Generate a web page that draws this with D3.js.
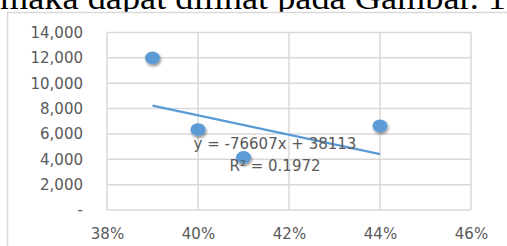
<!DOCTYPE html>
<html>
<head>
<meta charset="utf-8">
<script src="https://cdn.jsdelivr.net/npm/d3@7"></script>
<style>
  html, body { margin: 0; padding: 0; background: #fff; overflow: hidden; }
  svg { display: block; }
</style>
</head>
<body>
<div id="chart"></div>
<script>
// data
var pctValues = [0.39, 0.40, 0.41, 0.44];
var amountValues = [12000, 6350, 4150, 6650];
var xTicks = [0.38, 0.40, 0.42, 0.44, 0.46];
var yTicks = [0, 2000, 4000, 6000, 8000, 10000, 12000, 14000];
var trendSlope = [-76607];
var trendIntercept = [38113];
var trendLabels = ["y = -76607x + 38113", "R\u00B2 = 0.1972"];
var captionText = ["maka dapat dilihat pada Gambar. 1"];

var W = 507, H = 246;
var blue = "#5B9BD5";
var grid = "#d9d9d9";
var labelColor = "#595959";

var svg = d3.select("#chart").append("svg")
    .attr("width", W)
    .attr("height", H);

var defs = svg.append("defs");
var shadow = defs.append("filter").attr("id", "shadow")
    .attr("x", "-50%").attr("y", "-50%").attr("width", "200%").attr("height", "200%");
shadow.append("feGaussianBlur").attr("in", "SourceAlpha").attr("stdDeviation", 1.5).attr("result", "b");
shadow.append("feOffset").attr("in", "b").attr("dx", 1).attr("dy", 2).attr("result", "o");
shadow.append("feComponentTransfer").attr("in", "o").attr("result", "s")
  .append("feFuncA").attr("type", "linear").attr("slope", 0.45);
var merge = shadow.append("feMerge");
merge.append("feMergeNode").attr("in", "s");
merge.append("feMergeNode").attr("in", "SourceGraphic");

// caption text of the page, cut at the top
svg.append("text")
    .attr("x", 0)
    .attr("y", 9)
    .attr("textLength", 506)
    .attr("lengthAdjust", "spacingAndGlyphs")
    .style("font-family", "'Liberation Serif', 'Times New Roman', serif")
    .style("font-size", "34px")
    .style("fill", "#000")
    .text(captionText[0]);

// chart frame
svg.append("rect")
    .attr("x", 7.5).attr("y", 12.5)
    .attr("width", 540).attr("height", 260)
    .attr("fill", "#fff")
    .attr("stroke", grid)
    .attr("stroke-width", 1.5);

var x = d3.scaleLinear().domain([0.38, 0.46]).range([107, 471]);
var y = d3.scaleLinear().domain([0, 14000]).range([210, 32.5]);

var plot = svg.append("g");

// gridlines
plot.append("g").selectAll("line.h")
    .data(yTicks).enter().append("line")
    .attr("x1", x.range()[0]).attr("x2", x.range()[1])
    .attr("y1", function(d) { return y(d); })
    .attr("y2", function(d) { return y(d); })
    .attr("stroke", grid).attr("stroke-width", 1.5);

plot.append("g").selectAll("line.v")
    .data(xTicks).enter().append("line")
    .attr("x1", function(d) { return x(d); })
    .attr("x2", function(d) { return x(d); })
    .attr("y1", y.range()[0]).attr("y2", y.range()[1])
    .attr("stroke", grid).attr("stroke-width", 1.5);

// axes, labels only
var fmtY = function(d) { return d === 0 ? "-" : d3.format(",")(d); };
var yAxis = plot.append("g")
    .attr("transform", "translate(" + (x.range()[0] - 16) + ",0)")
    .call(d3.axisLeft(y).tickValues(yTicks).tickFormat(fmtY).tickSize(0).tickPadding(8));
var xAxis = plot.append("g")
    .attr("transform", "translate(0," + (y.range()[0] + 10) + ")")
    .call(d3.axisBottom(x).tickValues(xTicks).tickFormat(d3.format(".0%")).tickSize(0).tickPadding(8));

[yAxis, xAxis].forEach(function(a) {
  a.select(".domain").remove();
  a.selectAll("text")
      .style("font-family", "'DejaVu Sans', sans-serif")
      .style("font-size", "15px")
      .style("fill", labelColor);
});

// trendline from the fitted equation over the data range
var xExt = d3.extent(pctValues);
var trend = xExt.map(function(v) { return [v, trendSlope[0] * v + trendIntercept[0]]; });
plot.append("path")
    .datum(trend)
    .attr("d", d3.line().x(function(d) { return x(d[0]); }).y(function(d) { return y(d[1]); }))
    .attr("fill", "none")
    .attr("stroke", blue)
    .attr("stroke-width", 2.2);

// points
var pts = pctValues.map(function(v, i) { return [v, amountValues[i]]; });
plot.append("g").selectAll("ellipse")
    .data(pts).enter().append("ellipse")
    .attr("cx", function(d) { return x(d[0]); })
    .attr("cy", function(d) { return y(d[1]); })
    .attr("rx", 7.5)
    .attr("ry", 6.3)
    .attr("fill", blue)
    .attr("filter", "url(#shadow)");

// equation label
plot.append("g").selectAll("text")
    .data(trendLabels).enter().append("text")
    .attr("x", 275)
    .attr("y", function(d, i) { return 149 + i * 22; })
    .attr("text-anchor", "middle")
    .style("font-family", "'DejaVu Sans', sans-serif")
    .style("font-size", "15px")
    .style("fill", labelColor)
    .text(function(d) { return d; });
</script>
</body>
</html>
